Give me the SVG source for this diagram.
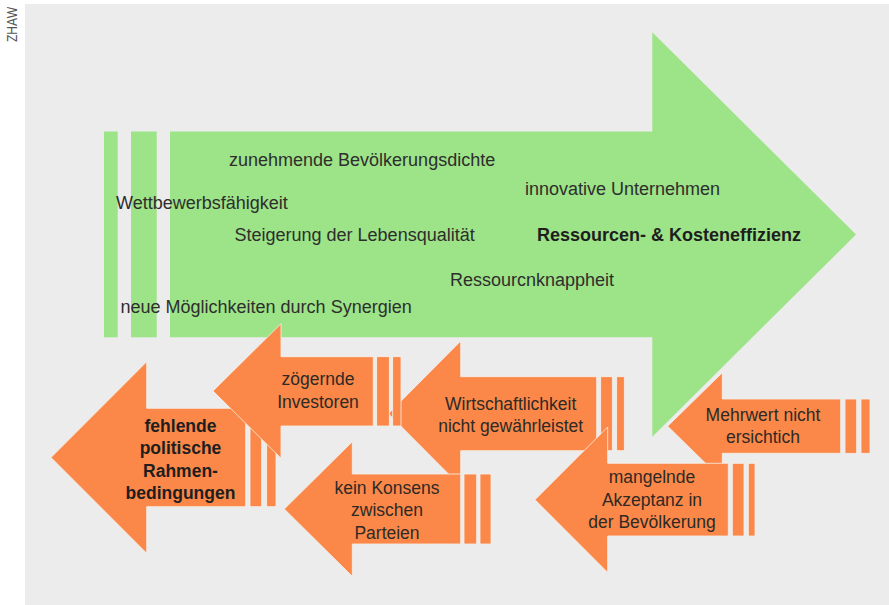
<svg xmlns="http://www.w3.org/2000/svg" width="889" height="605" viewBox="0 0 889 605">
<style>
.g{fill:#9de387}
.o{fill:#fb8848;stroke:#f6f1ec;stroke-width:0.8}
.t{font-family:"Liberation Sans",Arial,sans-serif;font-size:18px;fill:#2e2e2e}
.ot{font-family:"Liberation Sans",Arial,sans-serif;font-size:17.5px;fill:#2e2a26;text-anchor:middle}
.b{font-weight:bold;fill:#1e1e1e}
</style>
<rect x="0" y="0" width="889" height="605" fill="#ffffff"/>
<rect x="25" y="4" width="864" height="601" fill="#ececec"/>
<text transform="translate(16.5,42) rotate(-90)" font-family="Liberation Sans, Arial, sans-serif" font-size="14" fill="#555" textLength="35" lengthAdjust="spacingAndGlyphs">ZHAW</text>

<g id="green-arrow">
<rect class="g" x="104" y="131.5" width="13.7" height="205.8"/>
<rect class="g" x="131" y="131.5" width="25.7" height="205.8"/>
<polygon class="g" points="170,131.5 652.3,131.5 652.3,32.3 856,234.5 652.3,436.7 652.3,337.3 170,337.3"/>
<text class="t" x="229" y="166">zunehmende Bevölkerungsdichte</text>
<text class="t" x="116" y="209">Wettbewerbsfähigkeit</text>
<text class="t" x="234.5" y="241">Steigerung der Lebensqualität</text>
<text class="t" x="120.5" y="313">neue Möglichkeiten durch Synergien</text>
<text class="t" x="525" y="195">innovative Unternehmen</text>
<text class="t b" x="537" y="241">Ressourcen- &amp; Kosteneffizienz</text>
<text class="t" x="450" y="286">Ressourcnknappheit</text>
</g>

<g id="fehlende">
<polygon class="o" points="51,457.5 146.7,361.7 146.7,408.3 245.7,408.3 245.7,506.7 146.7,506.7 146.7,553.3"/>
<rect class="o" x="250" y="408.3" width="11.7" height="98.4"/>
<rect class="o" x="266.7" y="408.3" width="9.3" height="98.4"/>
<text class="ot b" x="180.5" y="432" font-size="18">fehlende</text>
<text class="ot b" x="180.5" y="454" font-size="18">politische</text>
<text class="ot b" x="180.5" y="476.5" font-size="18">Rahmen-</text>
<text class="ot b" x="180.5" y="498.5" font-size="18">bedingungen</text>
</g>

<g id="wirtschaftlichkeit">
<polygon class="o" points="388.5,413.7 460.7,341 460.7,376.7 596.7,376.7 596.7,450.7 460.7,450.7 460.7,486.3"/>
<rect class="o" x="600.7" y="376.7" width="11.6" height="74"/>
<rect class="o" x="616.7" y="376.7" width="7.6" height="74"/>
<text class="ot" x="510.7" y="410">Wirtschaftlichkeit</text>
<text class="ot" x="510.7" y="432">nicht gewährleistet</text>
</g>

<g id="zoegernde">
<polygon class="o" points="213,391 281,323.7 281,356.7 373.3,356.7 373.3,426 281,426 281,458.3"/>
<rect class="o" x="376.7" y="356.7" width="12.6" height="69.3"/>
<rect class="o" x="392.7" y="356.7" width="8.3" height="69.3"/>
<text class="ot" x="318" y="385">zögernde</text>
<text class="ot" x="318" y="407.5">Investoren</text>
</g>

<g id="kein-konsens">
<polygon class="o" points="284.3,509 352.3,441.7 352.3,474 460.7,474 460.7,544 352.3,544 352.3,576.3"/>
<rect class="o" x="464" y="474" width="12.7" height="70"/>
<rect class="o" x="480" y="474" width="11" height="70"/>
<text class="ot" x="387" y="493.5">kein Konsens</text>
<text class="ot" x="387" y="515.5">zwischen</text>
<text class="ot" x="387" y="538.5">Parteien</text>
</g>

<g id="mehrwert">
<polygon class="o" points="667.7,426.2 722.3,372.7 722.3,399 840.7,399 840.7,453.3 722.3,453.3 722.3,479.7"/>
<rect class="o" x="845" y="399" width="11.7" height="54.3"/>
<rect class="o" x="861" y="399" width="9" height="54.3"/>
<text class="ot" x="763" y="421">Mehrwert nicht</text>
<text class="ot" x="763" y="443">ersichtich</text>
</g>

<g id="mangelnde">
<polygon class="o" points="535,499.7 607.7,427 607.7,463.3 728.3,463.3 728.3,536 607.7,536 607.7,572.4"/>
<rect class="o" x="732.3" y="463.3" width="11.7" height="72.7"/>
<rect class="o" x="748.3" y="463.3" width="6.7" height="72.7"/>
<text class="ot" x="652" y="483">mangelnde</text>
<text class="ot" x="652" y="505.5">Akzeptanz in</text>
<text class="ot" x="652" y="528">der Bevölkerung</text>
</g>

<g id="connectors"></g>
</svg>
